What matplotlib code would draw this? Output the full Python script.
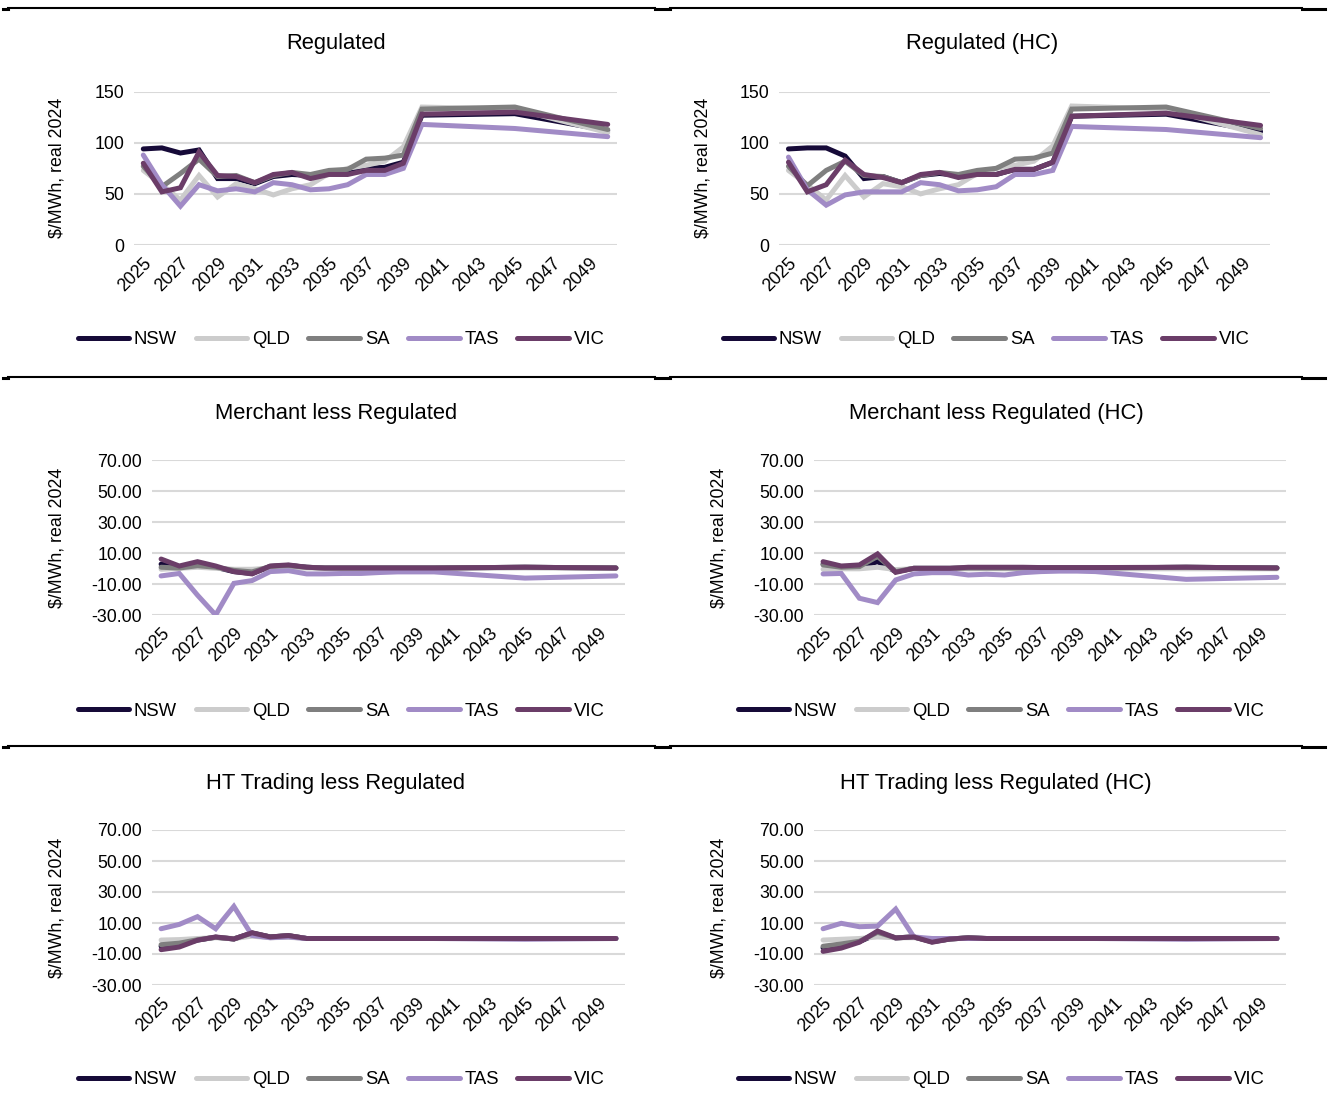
import matplotlib
matplotlib.use("Agg")
import matplotlib.pyplot as plt
from matplotlib.lines import Line2D

plt.rcParams["font.family"] = ["Liberation Sans Narrow", "Liberation Sans", "DejaVu Sans"]

# years with data points (yearly to 2040, then 2045 and 2050)
years = list(range(2025, 2041)) + [2045, 2050]
tick_years = list(range(2025, 2050, 2))
regions = ["NSW", "QLD", "SA", "TAS", "VIC"]
colors = ["#160a38", "#cccccc", "#7f7f7f", "#a18bc6", "#6b3d68"]

# Regulated
reg_nsw = [94, 95, 90, 93, 65, 65, 60, 67, 69, 68, 71, 70, 75, 76, 81, 127, 128.5, 112]
reg_qld = [73, 59, 44, 68, 47, 60, 55, 49, 55, 59, 70, 75, 78, 82, 96, 135, 133, 110]
reg_sa = [77, 57, 70, 84, 67, 68, 61, 68, 71, 69, 73, 74, 84, 85, 88, 133, 135, 113]
reg_tas = [88, 59, 38, 59, 53, 55, 52, 61, 59, 54, 55, 59, 69, 69, 75, 118, 114, 106]
reg_vic = [80, 52, 56, 91, 68, 67, 61, 69, 71, 65, 69, 69, 73, 73, 80, 128, 130, 118]

# Regulated (HC)
reghc_nsw = [94, 95, 95, 87, 65, 67, 61, 68, 70, 68, 71, 69, 74, 74, 81, 126, 128, 111]
reghc_qld = [73, 59, 44, 68, 47, 60, 57, 50, 55, 59, 70, 75, 78, 82, 97, 136, 133, 108]
reghc_sa = [77, 58, 73, 82, 68, 67, 61, 68, 71, 69, 73, 75, 84, 85, 90, 133, 135, 114]
reghc_tas = [86, 54, 39, 49, 52, 52, 52, 61, 59, 53, 54, 57, 69, 69, 73, 116, 113, 105]
reghc_vic = [81, 52, 59, 83, 69, 66, 61, 69, 71, 66, 69, 69, 74, 74, 81, 126, 129, 117]

# Merchant less Regulated
mer_nsw = [3, 1, 2.5, 1, -1.8, -3, 1.5, 2.2, 1, 0.5, 0.5, 0.5, 0.5, 0.5, 0.5, 0.5, 1, 0.5]
mer_qld = [-0.3, 0.3, 1, 0.3, -0.3, -0.3, 0.5, 0.5, 0.5, 0.3, 0.3, 0.3, 0.3, 0.3, 0.3, 0.3, 0.5, 0.3]
mer_sa = [1, 0.5, 2, 1, -1, -2, 1.5, 2, 1, 0.5, 0.5, 0.5, 0.5, 0.5, 0.5, 0.5, 1, 0.5]
mer_tas = [-4.6, -3, -17, -29.8, -9.4, -7.6, -1.8, -1.2, -3.3, -3.3, -3, -3, -2.4, -2, -2, -2, -6, -4.6]
mer_vic = [6.3, 1.8, 4.6, 1.8, -1.8, -3.3, 1.8, 2.5, 1, 0.5, 0.5, 0.5, 0.5, 0.5, 0.5, 0.5, 1, 0.5]

# Merchant less Regulated (HC)
merhc_nsw = [3, 1.4, 1, 4.6, -1.8, 0.3, 0.3, 0.3, 0.5, 0.5, 0.5, 0.5, 0.5, 0.5, 0.5, 0.5, 1, 0.5]
merhc_qld = [-0.3, 0, 0, 1, -0.5, 0, 0, 0, 0, 0, 0, 0, 0, 0, 0, 0, 0, 0]
merhc_sa = [2.5, 1, 1.4, 8, -1.8, 0.3, 0.3, 0.3, 0.5, 0.5, 0.5, 0.5, 0.5, 0.5, 0.5, 0.5, 1, 0.5]
merhc_tas = [-3.3, -3, -19, -21.8, -7.2, -3.3, -2.5, -2.5, -4, -3.5, -4, -2.5, -1.8, -1.5, -1.5, -1.8, -6.8, -5.5]
merhc_vic = [4.6, 1.8, 2.5, 9.6, -2.3, 0.3, 0.3, 0.3, 1, 1, 1, 1, 0.8, 0.8, 0.8, 0.8, 1, 0.5]

# HT Trading less Regulated
ht_nsw = [-5, -4, -1, 0.8, -0.3, 3.5, 1, 1.8, 0, 0, 0, 0, 0, 0, 0, 0, 0, 0]
ht_qld = [-1, -0.7, 0, 0.5, 0, 1.5, 0.5, 0.8, 0, 0, 0, 0, 0, 0, 0, 0, 0, 0]
ht_sa = [-4, -3, -0.8, 0.8, -0.3, 3.5, 1, 1.8, 0, 0, 0, 0, 0, 0, 0, 0, 0, 0]
ht_tas = [6.3, 9.1, 14.1, 6.3, 20.7, 2, 0.5, 1, 0, 0, 0, 0, 0, 0, 0, 0, -0.5, 0]
ht_vic = [-7.2, -5.5, -1.1, 1, -0.3, 3.7, 1, 1.9, 0, 0, 0, 0, 0, 0, 0, 0, 0, 0]

# HT Trading less Regulated (HC)
hthc_nsw = [-6, -4.5, -2, 3, 0.4, 1, -2, -0.3, 0.4, 0, 0, 0, 0, 0, 0, 0, 0, 0]
hthc_qld = [-1, -0.5, 0, 1, 0.5, 0.5, -0.5, 0, 0, 0, 0, 0, 0, 0, 0, 0, 0, 0]
hthc_sa = [-5, -3.5, -1.8, 4, 0.4, 1, -2.2, -0.3, 0.4, 0, 0, 0, 0, 0, 0, 0, 0, 0]
hthc_tas = [6.3, 9.8, 7.6, 8, 19, 1, 0, 0, 0, 0, 0, 0, 0, 0, 0, 0, -0.5, 0]
hthc_vic = [-8.3, -6.2, -2.4, 4.8, 0.4, 1, -2.4, -0.3, 0.4, 0, 0, 0, 0, 0, 0, 0, 0, 0]

price_ticks = [0, 50, 100, 150]
price_labels = ["0", "50", "100", "150"]
diff_ticks = [-30, -10, 10, 30, 50, 70]
diff_labels = ["-30.00", "-10.00", "10.00", "30.00", "50.00", "70.00"]

W, H = 1333, 1098
fig = plt.figure(figsize=(W / 100, H / 100), dpi=100)


def px_rect(left, top, right, bottom):
    return [left / W, 1 - bottom / H, (right - left) / W, (bottom - top) / H]


def draw_panel(rect, title, title_xy, ylab_x, legend_xy, series, yticks, ylabels):
    ax = fig.add_axes(px_rect(*rect))
    for name, vals, col in zip(regions, series, colors):
        ax.plot(years, vals, color=col, lw=3.6, label=name, solid_capstyle="round",
                solid_joinstyle="miter")
    ax.set_xlim(2024.5, 2050.5)
    ax.set_ylim(yticks[0], yticks[-1])
    ax.set_yticks(yticks)
    ax.set_yticklabels(ylabels, fontsize=12.8)
    ax.set_xticks(tick_years)
    ax.set_xticklabels([str(y) for y in tick_years], fontsize=12.8,
                       rotation=45, ha="right", rotation_mode="anchor")
    ax.tick_params(length=0, pad=7)
    ax.grid(axis="y", color="#d9d9d9", lw=1.5)
    ax.set_axisbelow(True)
    for s in ax.spines.values():
        s.set_visible(False)
    ax.set_ylabel("$/MWh, real 2024", fontsize=12.8)
    ax.yaxis.set_label_coords((ylab_x - rect[0]) / (rect[2] - rect[0]), 0.5)
    fig.text(title_xy[0] / W, 1 - title_xy[1] / H, title, fontsize=15.8,
             ha="center", va="center")
    h, l = ax.get_legend_handles_labels()
    fig.legend(h, l, loc="center", bbox_to_anchor=(legend_xy[0] / W, 1 - legend_xy[1] / H),
               ncol=5, frameon=False, fontsize=13.3, handlelength=2.8,
               handletextpad=0.25, columnspacing=1.0, borderaxespad=0)
    return ax


draw_panel((134, 91.7, 617, 245), "Regulated", (336, 44), 66, (341, 340),
           [reg_nsw, reg_qld, reg_sa, reg_tas, reg_vic], price_ticks, price_labels)
draw_panel((779, 91.7, 1270, 245), "Regulated (HC)", (982, 44), 712, (986, 340),
           [reghc_nsw, reghc_qld, reghc_sa, reghc_tas, reghc_vic], price_ticks, price_labels)
draw_panel((152, 460.3, 625, 615.3), "Merchant less Regulated", (336, 414), 66, (341, 711),
           [mer_nsw, mer_qld, mer_sa, mer_tas, mer_vic], diff_ticks, diff_labels)
draw_panel((814, 460.3, 1286, 615.3), "Merchant less Regulated (HC)", (996, 414), 728, (1001, 711),
           [merhc_nsw, merhc_qld, merhc_sa, merhc_tas, merhc_vic], diff_ticks, diff_labels)
draw_panel((152, 830, 625, 985), "HT Trading less Regulated", (336, 784), 66, (341, 1080),
           [ht_nsw, ht_qld, ht_sa, ht_tas, ht_vic], diff_ticks, diff_labels)
draw_panel((814, 830, 1286, 985), "HT Trading less Regulated (HC)", (996, 784), 728, (1001, 1080),
           [hthc_nsw, hthc_qld, hthc_sa, hthc_tas, hthc_vic], diff_ticks, diff_labels)

# table borders between the chart cells
for yb in (8, 377, 746):
    for x0, x1 in ((8, 655), (670, 1302)):
        fig.add_artist(Line2D([x0 / W, x1 / W], [1 - yb / H] * 2, color="black", lw=1.5))
    for x0, x1 in ((3, 8), (655, 670), (1302, 1325)):
        fig.add_artist(Line2D([x0 / W, x1 / W], [1 - (yb + 1) / H] * 2, color="black", lw=2.2))

fig.savefig("out.png", dpi=100)
